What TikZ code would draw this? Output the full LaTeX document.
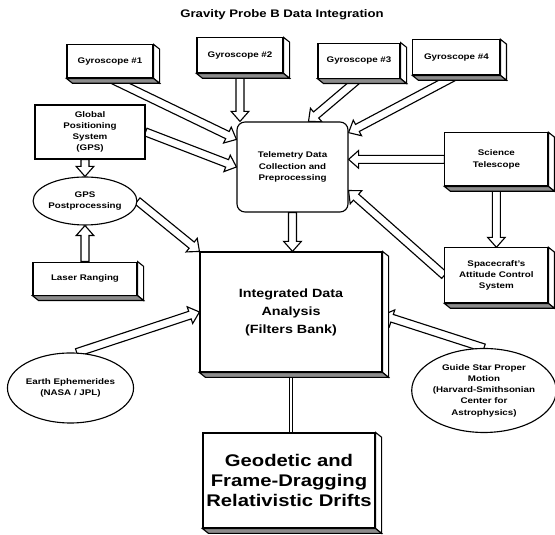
\documentclass[tikz,border=0pt]{standalone}
\usepackage{fontspec}
\setmainfont{Liberation Sans}[FakeStretch=1.2]
\usepackage{tikz}
\usetikzlibrary{calc,positioning,shapes.geometric,backgrounds}

\tikzset{
	panel/.style={draw, thick, fill=white, align=center, inner sep=1pt, font=\fontsize{5.8}{8}\selectfont\bfseries},
	oval/.style={ellipse, draw, thick, fill=white, align=center, inner sep=0pt, font=\fontsize{5.8}{8}\selectfont\bfseries},
	blockarrow/.style={draw, thick, fill=white, line join=miter},
	sidedepth/.style={draw, thick, fill=white},
	bottomdepth/.style={draw, thick, fill=black!45},
}

% hollow block arrow from #1 to #2
\newcommand\blockarr[2]{%
	\coordinate (ba-s) at (#1);
	\coordinate (ba-e) at (#2);
	\coordinate (ba-m) at ($(ba-e)!0.25cm!(ba-s)$);
	\draw[blockarrow] ($(ba-s)!0.1cm!90:(ba-e)$) -- ($(ba-m)!0.1cm!90:(ba-e)$) -- ($(ba-m)!0.22cm!90:(ba-e)$) -- (ba-e)
		-- ($(ba-m)!0.22cm!-90:(ba-e)$) -- ($(ba-m)!0.1cm!-90:(ba-e)$) -- ($(ba-s)!0.1cm!-90:(ba-e)$) -- cycle;}

% the thick right and bottom sides of a box
\newcommand\boxdepth[1]{%
	\draw[sidedepth] (#1.north east) -- ++(0.15,-0.12) -- ($(#1.south east)+(0.15,-0.12)$) -- (#1.south east) -- cycle;
	\draw[bottomdepth] (#1.south west) -- ++(0.15,-0.12) -- ($(#1.south east)+(0.15,-0.12)$) -- (#1.south east) -- cycle;}

\begin{document}
\begin{tikzpicture}
				\useasboundingbox (0,0) rectangle (13.875,13.375);
				
				\node [font=\fontsize{7.8}{9}\selectfont\bfseries] (title) at (7.05,13.0) {Gravity Probe B Data Integration};
				
				% % % % % % % % % % % % % % % % % % % % % % % % % %
				
				\node [panel, minimum width=2.15cm, minimum height=0.825cm] (gyroA) at (2.75,11.84) {Gyroscope \#1};
				\node [panel, minimum width=2.15cm, minimum height=0.875cm] (gyroB) at (6.0,11.99) {Gyroscope \#2};
				\node [panel, minimum width=2.05cm, minimum height=0.875cm] (gyroC) at (8.975,11.86) {Gyroscope \#3};
				\node [panel, minimum width=2.175cm, minimum height=0.875cm] (gyroD) at (11.41,11.94) {Gyroscope \#4};
				
				\node [panel, minimum width=2.75cm, minimum height=1.35cm] (gps) at (2.25,10.075) {Global\\Positioning\\System\\(GPS)};
				\node [oval, minimum width=2.55cm, minimum height=1.2cm] (gpspost) at (2.125,8.35) {GPS\\Postprocessing};
				\node [panel, minimum width=2.6cm, minimum height=0.825cm] (laser) at (2.125,6.41) {Laser Ranging};
				
				\node [panel, rounded corners=0.2cm, minimum width=2.775cm, minimum height=2.25cm] (telem) at (7.3125,9.2) {Telemetry Data\\Collection and\\Preprocessing};
				
				\node [panel, minimum width=2.575cm, minimum height=1.325cm] (science) at (12.41,9.39) {Science\\Telescope};
				\node [panel, minimum width=2.575cm, minimum height=1.375cm] (craft) at (12.41,6.49) {Spacecraft's\\Attitude Control\\System};
				
				\node [panel, font=\fontsize{8.5}{13}\selectfont\bfseries, minimum width=4.55cm, minimum height=3.0cm] (integ) at (7.275,5.575)
					{\raisebox{7pt}{\begin{tabular}{@{}c@{}}Integrated Data\\Analysis\\(Filters Bank)\end{tabular}}};
				
				\node [oval, minimum width=3.125cm, minimum height=1.75cm] (earth) at (1.7625,3.675) {Earth Ephemerides\\(NASA / JPL)};
				\node [oval, minimum width=3.45cm, minimum height=2.1cm] (guide) at (12.1,3.6125) {Guide Star Proper\\Motion\\(Harvard-Smithsonian\\Center for\\Astrophysics)};
				
				\node [panel, font=\fontsize{12}{14}\selectfont\bfseries, minimum width=4.3cm, minimum height=2.375cm] (geo) at (7.225,1.3625) {Geodetic and\\Frame-Dragging\\Relativistic Drifts};
				
				\boxdepth{gyroA}
				\boxdepth{gyroB}
				\boxdepth{gyroC}
				\boxdepth{gyroD}
				\boxdepth{laser}
				\boxdepth{science}
				\boxdepth{craft}
				\boxdepth{integ}
				\boxdepth{geo}
				
				% % % % % % % % % % % % % % % % % % % % % % % % % %
				
				\begin{scope}[on background layer]
				\blockarr{gyroA.south}{[yshift=-0.45cm]telem.north west}
				\blockarr{gps.east}{telem.west}
				\blockarr{gyroB.south}{gyroB.south |- telem.north}
				\blockarr{gyroC.south}{[xshift=0.4cm]telem.north}
				\blockarr{gyroD.south}{[yshift=-0.28cm]telem.north east}
				\blockarr{science.west}{science.west -| telem.east}
				\blockarr{craft.west}{[yshift=0.55cm]telem.south east}
				\blockarr{science.south}{craft.north}
				
				\blockarr{telem.south}{telem.south |- integ.north}
				\blockarr{gpspost.north |- gps.south}{gpspost.north}
				\blockarr{laser.north}{gpspost.south}
				\blockarr{gpspost.east}{integ.north west}
				\blockarr{earth.80}{integ.west}
				\blockarr{guide.north}{[yshift=-0.08cm]integ.east}
				
				\draw [thick, double, double distance=1.2pt] (integ.south) -- (integ.south |- geo.north);
				\end{scope}
\end{tikzpicture}
\end{document}
